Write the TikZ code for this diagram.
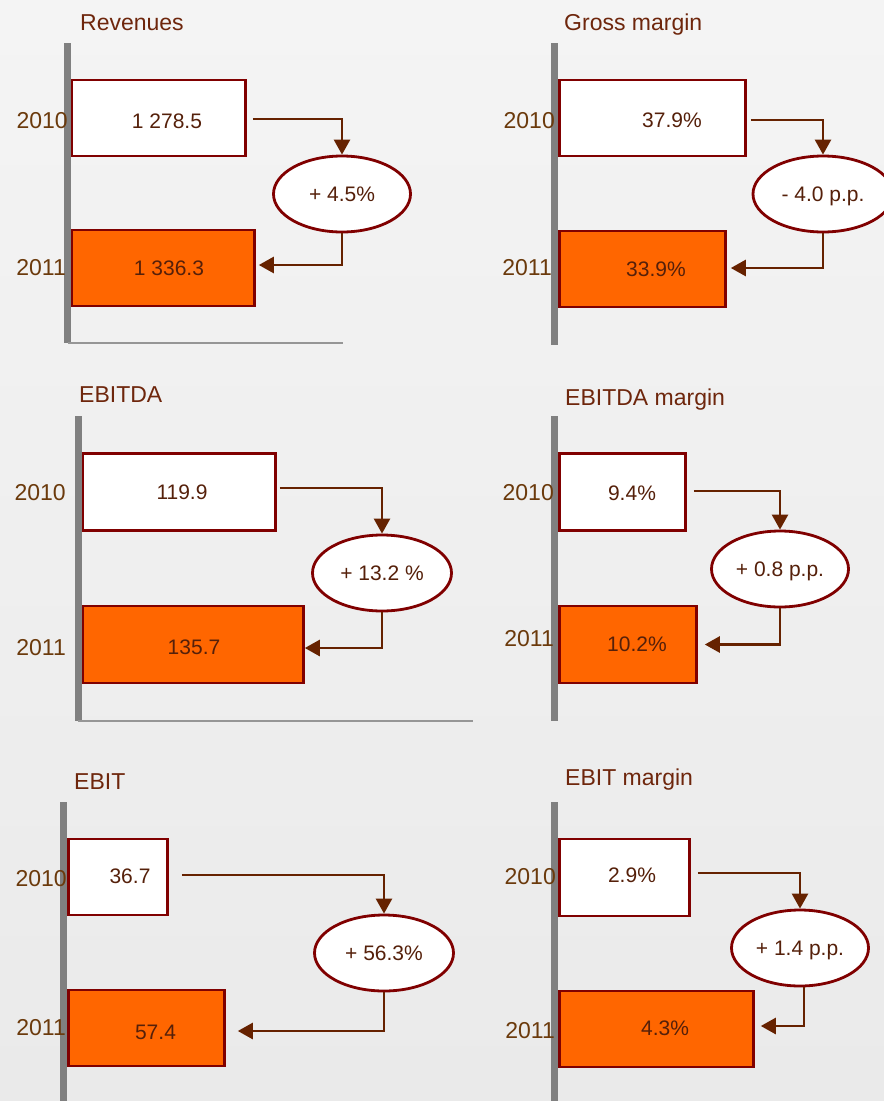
\documentclass[tikz,border=0pt]{standalone}
\usepackage{fontspec}
\setmainfont{Liberation Sans}
\usetikzlibrary{shapes.geometric,arrows.meta,calc}
\definecolor{bgtop}{RGB}{244,244,244}
\definecolor{bgbot}{RGB}{234,234,234}
\definecolor{axisgray}{RGB}{128,128,128}
\definecolor{basegray}{RGB}{150,150,150}
\definecolor{boxred}{RGB}{128,0,0}
\definecolor{barorange}{RGB}{255,102,0}
\definecolor{arrowbrown}{RGB}{102,34,0}
\definecolor{titletxt}{RGB}{110,38,12}
\definecolor{yeartxt}{RGB}{107,58,12}
\definecolor{valtxt}{RGB}{85,32,10}
\begin{document}
\begin{tikzpicture}[x=1pt,y=-1pt,
  axisline/.style={draw=axisgray, line width=7},
  baseline/.style={draw=basegray, line width=1.5},
  barA/.style={rectangle, draw=boxred, fill=white, line width=2.8, minimum height=76, anchor=west, inner sep=0},
  barB/.style={barA, fill=barorange},
  chg/.style={ellipse, draw=boxred, fill=white, line width=2.8, minimum width=137, minimum height=76, inner sep=0, text=valtxt, font=\fontsize{21}{25}\selectfont, text height=15, text depth=0},
  val/.style={text=valtxt, font=\fontsize{21}{25}\selectfont, inner sep=0, text height=15, text depth=0},
  yr/.style={text=yeartxt, font=\fontsize{23}{27}\selectfont, anchor=east, inner sep=0},
  ttl/.style={text=titletxt, font=\fontsize{23}{27}\selectfont, anchor=west, inner sep=0, text height=16.5, text depth=0},
  flow/.style={draw=arrowbrown, line width=2.6, -{Triangle[width=16pt,length=15pt]}}]
\shade[top color=bgtop, bottom color=bgbot] (0,0) rectangle (884,1101);
\useasboundingbox (0,0) rectangle (884,1101);
\clip (0,0) rectangle (884,1101);

% ---------- Revenues ----------
\node[ttl] (t1) at (80,22) {Revenues};
\node[barA, minimum width=174] (a10) at (70,118) {};
\node[barB, minimum width=183] (a11) at (70,268) {};
\draw[axisline] (67.5,43) -- (67.5,343);
\draw[baseline] (67.5,343) -- (343,343);
\node[val] (va10) at (167,121) {1 278.5};
\node[val] (va11) at (169,268) {1 336.3};
\node[yr] (ya10) at (68,121) {2010};
\node[yr] (ya11) at (66,268) {2011};
\node[chg] (ea) at (342,194) {+ 4.5\%};
\draw[flow] ([xshift=6,yshift=-1]a10.east) -| (ea.north);
\draw[flow] (ea.south) |- ([xshift=3,yshift=3]a11.east);

% ---------- Gross margin ----------
\node[ttl] (t2) at (564,22) {Gross margin};
\node[barA, minimum width=186] (b10) at (558,118) {};
\node[barB, minimum width=166] (b11) at (558,269) {};
\draw[axisline] (554,43) -- (554,345);
\node[val] (vb10) at (672,120) {37.9\%};
\node[val] (vb11) at (656,269) {33.9\%};
\node[yr] (yb10) at (555,121) {2010};
\node[yr] (yb11) at (552,268) {2011};
\node[chg, minimum width=140] (eb) at (823,194) {- 4.0 p.p.};
\draw[flow] ([xshift=4,yshift=-2]b10.east) -| (eb.north);
\draw[flow] (eb.south) |- ([xshift=4,yshift=1]b11.east);

% ---------- EBITDA ----------
\node[ttl] (t3) at (79,394) {EBITDA};
\node[barA, minimum width=193, minimum height=77] (c10) at (81,492) {};
\node[barB, minimum width=221, minimum height=77] (c11) at (81,644.5) {};
\draw[axisline] (78,416) -- (78,721);
\draw[baseline] (78,721) -- (473,721);
\node[val] (vc10) at (182,492) {119.9};
\node[val] (vc11) at (194,647) {135.7};
\node[yr] (yc10) at (66,493) {2010};
\node[yr] (yc11) at (66,648) {2011};
\node[chg, minimum width=139] (ec) at (382,573) {+ 13.2 \%};
\draw[flow] ([xshift=3,yshift=4]c10.east) -| (ec.north);
\draw[flow] (ec.south) |- ([yshift=-3.5]c11.east);

% ---------- EBITDA margin ----------
\node[ttl] (t4) at (565,397) {EBITDA margin};
\node[barA, minimum width=126, minimum height=77] (d10) at (558,492) {};
\node[barB, minimum width=137, minimum height=77] (d11) at (558,644.5) {};
\draw[axisline] (554.5,416) -- (554.5,721);
\node[val] (vd10) at (632,493) {9.4\%};
\node[val] (vd11) at (637,644) {10.2\%};
\node[yr] (yd10) at (554,493) {2010};
\node[yr] (yd11) at (554,639) {2011};
\node[chg] (ed) at (780,569) {+ 0.8 p.p.};
\draw[flow] ([xshift=7,yshift=1]d10.east) -| (ed.north);
\draw[flow] (ed.south) |- ([xshift=7]d11.east);

% ---------- EBIT ----------
\node[ttl] (t5) at (74,781) {EBIT};
\node[barA, minimum width=99] (f10) at (67,877) {};
\node[barB, minimum width=156] (f11) at (67,1028) {};
\draw[axisline] (63,802) -- (63,1105);
\node[val] (vf10) at (130,876) {36.7};
\node[val] (vf11) at (155.5,1032) {57.4};
\node[yr] (yf10) at (67,879) {2010};
\node[yr] (yf11) at (66,1028) {2011};
\node[chg, minimum width=139] (ef) at (384,953) {+ 56.3\%};
\draw[flow] ([xshift=13,yshift=2]f10.east) -| (ef.north);
\draw[flow] (ef.south) |- ([xshift=12,yshift=-3]f11.east);

% ---------- EBIT margin ----------
\node[ttl] (t6) at (565,777) {EBIT margin};
\node[barA, minimum width=130, minimum height=77] (g10) at (558,877.5) {};
\node[barB, minimum width=194] (g11) at (558,1029) {};
\draw[axisline] (554.5,802) -- (554.5,1105);
\node[val] (vg10) at (632,875) {2.9\%};
\node[val] (vg11) at (665,1028) {4.3\%};
\node[yr] (yg10) at (556,877) {2010};
\node[yr] (yg11) at (555,1031) {2011};
\node[chg] (eg) at (800,948) {+ 1.4 p.p.};
\draw[flow] ([xshift=7,yshift=4.5]g10.east) -| (eg.north);
\draw[flow] ([xshift=4]eg.south) |- ([xshift=6,yshift=3]g11.east);
\end{tikzpicture}
\end{document}
